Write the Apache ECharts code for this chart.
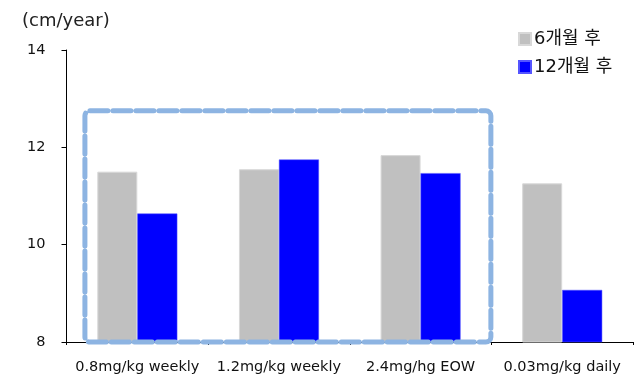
<!DOCTYPE html>
<html>
<head>
<meta charset="utf-8">
<script src="https://cdn.jsdelivr.net/npm/echarts@6/dist/echarts.min.js"></script>
<style>
html,body{margin:0;padding:0;background:#fff;}
#c{width:635px;height:381px;}
</style>
</head>
<body>
<div id="c"></div>
<script>
var categories = ['0.8mg/kg weekly', '1.2mg/kg weekly', '2.4mg/hg EOW', '0.03mg/kg daily'];
var seriesNames = ['6개월 후', '12개월 후'];
var values6 = [11.50, 11.55, 11.84, 11.26];
var values12 = [10.64, 11.75, 11.47, 9.07];
var yTicks = [8, 10, 12, 14];

(function () {
  var FONT = '"DejaVu Sans", "Noto Sans CJK KR", sans-serif';
  var chart = echarts.init(document.getElementById('c'), null, {renderer: 'canvas'});
  var option = {
    animation: false,
    backgroundColor: '#fff',
    textStyle: {fontFamily: FONT},
    title: {
      text: '(cm/year)', left: 17, top: 7,
      textStyle: {fontSize: 18, fontWeight: 'normal', color: '#222', fontFamily: FONT}
    },
    legend: {
      orient: 'vertical', left: 513, top: 25, itemWidth: 12, itemHeight: 12, itemGap: 10,
      icon: 'rect',
      textStyle: {fontSize: 18, color: '#111', fontFamily: FONT, padding: [0, 0, 0, -2]},
      data: seriesNames
    },
    grid: {left: 66.5, right: 2, top: 50, bottom: 39, containLabel: false},
    xAxis: {
      type: 'category', data: categories,
      axisLine: {lineStyle: {color: '#000', width: 1}},
      axisTick: {show: true, length: 3, lineStyle: {color: '#000'}},
      axisLabel: {fontSize: 14.5, color: '#111', margin: 18, interval: 0, fontFamily: FONT}
    },
    yAxis: {
      type: 'value', min: yTicks[0], max: yTicks[yTicks.length - 1], interval: 2,
      axisLine: {show: true, lineStyle: {color: '#000', width: 1}},
      axisTick: {show: true, length: 5, lineStyle: {color: '#000'}},
      splitLine: {show: false},
      axisLabel: {fontSize: 14.5, color: '#111', margin: 21, fontFamily: FONT}
    },
    series: [
      {name: seriesNames[0], type: 'bar', data: values6, barWidth: 40, barGap: '0%',
       itemStyle: {color: '#C0C0C0', borderColor: '#d8d8d8', borderWidth: 1}},
      {name: seriesNames[1], type: 'bar', data: values12, barWidth: 40, barGap: '0%',
       itemStyle: {color: '#0000FF', borderColor: '#5555ff', borderWidth: 0.5}}
    ]
  };
  chart.setOption(option);

  // dashed highlight box around the first three categories
  var c0 = chart.convertToPixel({xAxisIndex: 0}, 0);
  var c1 = chart.convertToPixel({xAxisIndex: 0}, 1);
  var c2 = chart.convertToPixel({xAxisIndex: 0}, 2);
  var band = c1 - c0;
  var boxL = c0 - band * 0.37;
  var boxR = c2 + band * 0.5 - 0.5;
  var boxT = chart.convertToPixel({yAxisIndex: 0}, 12.75);
  var boxB = chart.convertToPixel({yAxisIndex: 0}, 8);
  chart.setOption({
    graphic: [{
      type: 'rect', z: 100,
      shape: {x: boxL, y: boxT, width: boxR - boxL, height: boxB - boxT, r: 5},
      style: {fill: null, stroke: '#8DB4E2', lineWidth: 5, lineDash: [18, 5], lineCap: 'round'}
    }]
  });
})();
</script>
</body>
</html>
